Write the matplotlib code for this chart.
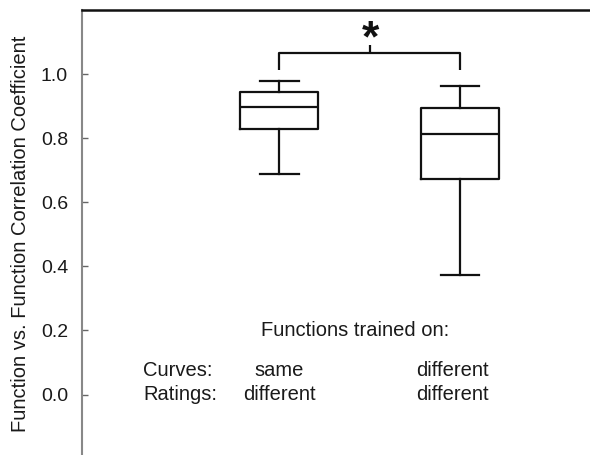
import matplotlib
matplotlib.use("Agg")
import matplotlib.pyplot as plt

plt.rcParams['font.family'] = ['Liberation Sans', 'DejaVu Sans']

# Data
groups = ["same/different", "different/different"]
positions = [1, 2]
whisker_low = [0.687, 0.373]
q1 = [0.830, 0.673]
median = [0.898, 0.813]
q3 = [0.945, 0.893]
whisker_high = [0.979, 0.962]

yticks = [0.0, 0.2, 0.4, 0.6, 0.8, 1.0]
ytick_labels = ["0.0", "0.2", "0.4", "0.6", "0.8", "1.0"]

curves_labels = ["same", "different"]
ratings_labels = ["different", "different"]

fig = plt.figure(figsize=(5.9, 4.55), dpi=100)
ax = fig.add_axes([82 / 590, -0.008, 1 - 82 / 590, 448.7 / 455])

stats = []
for i in range(len(groups)):
    stats.append(dict(label=groups[i], whislo=whisker_low[i], q1=q1[i], med=median[i],
                      q3=q3[i], whishi=whisker_high[i], fliers=[]))

lw = 1.6
ax.bxp(stats, positions=positions, widths=0.43, capwidths=0.215, showfliers=False,
       boxprops=dict(color='#111111', linewidth=lw),
       whiskerprops=dict(color='#111111', linewidth=lw),
       capprops=dict(color='#111111', linewidth=lw),
       medianprops=dict(color='#111111', linewidth=lw))

# significance bracket
br_y, br_leg, br_tip = 1.066, 1.013, 1.091
ax.plot([positions[0], positions[0], positions[1], positions[1]],
        [br_leg, br_y, br_y, br_leg], color='#111111', lw=lw, solid_capstyle='butt')
xm = (positions[0] + positions[1]) / 2
ax.plot([xm, xm], [br_y, br_tip], color='#111111', lw=lw, solid_capstyle='butt')
ax.text(xm + 0.005, 1.072, "*", ha='center', va='baseline', fontsize=32, fontweight='bold',
        color='#111111')

# annotations
fs = 14.5
tc = '#1a1a1a'
ax.text(1.419, 0.182, "Functions trained on:", ha='center', va='baseline', fontsize=fs,
        color=tc)
ax.text(0.247, 0.059, "Curves:", ha='left', va='baseline', fontsize=fs, color=tc)
ax.text(0.247, -0.017, "Ratings:", ha='left', va='baseline', fontsize=fs, color=tc)
xcols = [1.0, 1.96]
for i in range(2):
    ax.text(xcols[i], 0.059, curves_labels[i], ha='center', va='baseline', fontsize=fs,
            color=tc)
    ax.text(xcols[i], -0.017, ratings_labels[i], ha='center', va='baseline', fontsize=fs,
            color=tc)

ax.set_xlim(-0.092, 2.72)
ax.set_ylim(-0.2, 1.2)
ax.set_yticks(yticks)
ax.set_yticklabels(ytick_labels)
ax.set_xticks([])
ax.tick_params(axis='y', direction='in', length=4, width=1, color='#666666',
               labelsize=14, labelcolor=tc, pad=10)

for s in ['right', 'bottom']:
    ax.spines[s].set_visible(False)
ax.spines['left'].set_color('#888888')
ax.spines['left'].set_linewidth(1.5)
ax.spines['top'].set_color('#111111')
ax.spines['top'].set_linewidth(1.8)

ax.set_ylabel("Function vs. Function Correlation Coefficient", fontsize=14.5, color=tc)
ax.yaxis.set_label_coords(-0.102, 0.5)

fig.savefig("out.png", dpi=100, facecolor='white')
